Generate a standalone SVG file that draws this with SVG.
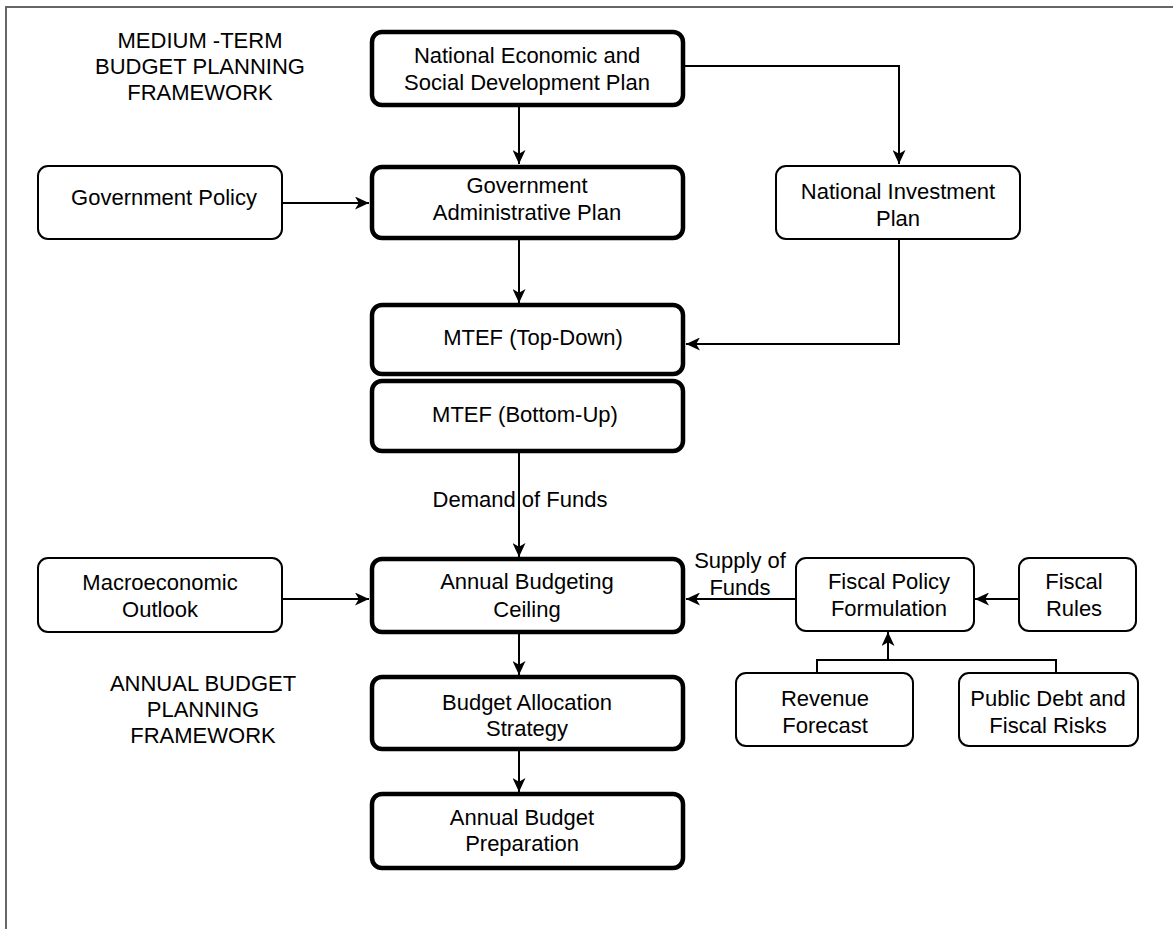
<svg xmlns="http://www.w3.org/2000/svg" width="1173" height="929" viewBox="0 0 1173 929">
<defs>
<style>
text{font-family:"Liberation Sans",Arial,sans-serif;font-size:22px;fill:#000;text-anchor:middle}
.thick{fill:#fff;stroke:#000;stroke-width:4.5}
.thin{fill:#fff;stroke:#000;stroke-width:2}
.conn{fill:none;stroke:#000;stroke-width:2}
.arr{marker-end:url(#ah)}
</style>
<marker id="ah" markerUnits="userSpaceOnUse" viewBox="0 0 14 13" markerWidth="14" markerHeight="13" refX="14" refY="6.5" orient="auto">
<path d="M0,0 L14,6.5 L0,13 L3.8,6.5 Z" fill="#000"/>
</marker>
</defs>
<rect x="0" y="0" width="1173" height="929" fill="#fff"/>
<rect id="frame" x="6" y="7" width="1200" height="1000" fill="none" stroke="#666" stroke-width="2"/>

<g id="label-medium">
<text x="200" y="48">MEDIUM -TERM</text>
<text x="200" y="74">BUDGET PLANNING</text>
<text x="200" y="100">FRAMEWORK</text>
</g>
<g id="label-annual">
<text x="203" y="691">ANNUAL BUDGET</text>
<text x="203" y="717">PLANNING</text>
<text x="203" y="743">FRAMEWORK</text>
</g>

<g id="connectors">
<path class="conn arr" d="M519,107 V164"/>
<path class="conn arr" d="M685,66 H899 V164"/>
<path class="conn arr" d="M283,203 H369"/>
<path class="conn arr" d="M519,240 V303"/>
<path class="conn arr" d="M899,240 V344 H686"/>
<path class="conn arr" d="M519,453 V557"/>
<path class="conn arr" d="M283,599 H369"/>
<path class="conn arr" d="M795,599 H686"/>
<path class="conn arr" d="M1018,599 H975"/>
<path class="conn" d="M817,673 V660 H1056 V673"/>
<path class="conn arr" d="M888,660 V632"/>
<path class="conn arr" d="M519,634 V675"/>
<path class="conn arr" d="M519,751 V792"/>
<text x="520" y="507">Demand of Funds</text>
<text x="740" y="568">Supply of</text>
<text x="740" y="595">Funds</text>
</g>

<g id="nesdp">
<rect class="thick" x="372" y="32" width="311" height="73" rx="10"/>
<text x="527" y="63">National Economic and</text>
<text x="527" y="90">Social Development Plan</text>
</g>
<g id="gov-admin">
<rect class="thick" x="372" y="167" width="311" height="71" rx="10"/>
<text x="527" y="193">Government</text>
<text x="527" y="220">Administrative Plan</text>
</g>
<g id="mtef-top">
<rect class="thick" x="372" y="305" width="311" height="69" rx="10"/>
<text x="533" y="345">MTEF (Top-Down)</text>
</g>
<g id="mtef-bottom">
<rect class="thick" x="372" y="381" width="311" height="70" rx="10"/>
<text x="525" y="422">MTEF (Bottom-Up)</text>
</g>
<g id="ceiling">
<rect class="thick" x="372" y="559" width="311" height="73" rx="10"/>
<text x="527" y="589">Annual Budgeting</text>
<text x="527" y="617">Ceiling</text>
</g>
<g id="allocation">
<rect class="thick" x="372" y="677" width="311" height="72" rx="10"/>
<text x="527" y="710">Budget Allocation</text>
<text x="527" y="736">Strategy</text>
</g>
<g id="preparation">
<rect class="thick" x="372" y="794" width="311" height="74" rx="10"/>
<text x="522" y="825">Annual Budget</text>
<text x="522" y="851">Preparation</text>
</g>

<g id="gov-policy">
<rect class="thin" x="38" y="166" width="244" height="73" rx="10"/>
<text x="164" y="205">Government Policy</text>
</g>
<g id="nip">
<rect class="thin" x="776" y="166" width="244" height="73" rx="10"/>
<text x="898" y="199">National Investment</text>
<text x="898" y="226">Plan</text>
</g>
<g id="macro">
<rect class="thin" x="38" y="558" width="244" height="74" rx="10"/>
<text x="160" y="590">Macroeconomic</text>
<text x="160" y="617">Outlook</text>
</g>
<g id="fiscal-policy">
<rect class="thin" x="796" y="558" width="178" height="73" rx="10"/>
<text x="889" y="589">Fiscal Policy</text>
<text x="889" y="616">Formulation</text>
</g>
<g id="fiscal-rules">
<rect class="thin" x="1019" y="558" width="117" height="73" rx="10"/>
<text x="1074" y="589">Fiscal</text>
<text x="1074" y="616">Rules</text>
</g>
<g id="revenue">
<rect class="thin" x="736" y="673" width="177" height="73" rx="10"/>
<text x="825" y="706">Revenue</text>
<text x="825" y="733">Forecast</text>
</g>
<g id="public-debt">
<rect class="thin" x="959" y="673" width="179" height="73" rx="10"/>
<text x="1048" y="706">Public Debt and</text>
<text x="1048" y="733">Fiscal Risks</text>
</g>
</svg>
